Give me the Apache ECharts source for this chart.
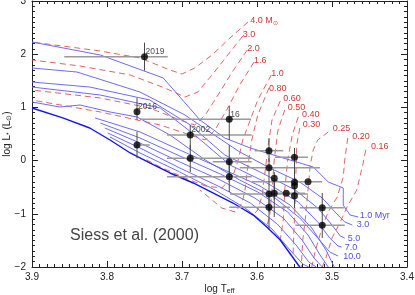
<!DOCTYPE html>
<html><head><meta charset="utf-8">
<script src="https://cdn.jsdelivr.net/npm/echarts@6/dist/echarts.min.js"></script>
<style>html,body{margin:0;padding:0;background:#fff}#c{width:415px;height:295px}</style>
</head><body><div id="c"></div>
<script>
// ---------- data ----------
const xTicks = [3.9, 3.8, 3.7, 3.6, 3.5, 3.4];
const yTicks = [3, 2, 1, 0, -1, -2];

// isochrones (log Teff, log L)
const iso1 = [[3.900,2.229],[3.809,1.985],[3.725,1.553],[3.676,0.763],[3.643,0.425],[3.609,0.237],[3.556,0.011],[3.525,-0.120],[3.505,-0.402],[3.485,-0.515],[3.485,-0.835],[3.476,-1.023],[3.465,-1.060]];
const iso2 = [[3.900,1.741],[3.840,1.665],[3.756,1.289],[3.696,0.857],[3.663,0.538],[3.623,0.162],[3.583,-0.139],[3.543,-0.402],[3.513,-0.703],[3.496,-0.966],[3.483,-1.154],[3.473,-1.211]];
const iso3 = [[3.900,1.477],[3.823,1.383],[3.743,1.139],[3.689,0.669],[3.643,0.105],[3.596,-0.214],[3.549,-0.553],[3.519,-0.891],[3.500,-1.211],[3.489,-1.417],[3.483,-1.455]];
const iso4 = [[3.900,1.383],[3.809,1.233],[3.729,0.989],[3.683,0.481],[3.636,-0.083],[3.589,-0.402],[3.545,-0.778],[3.519,-1.154],[3.503,-1.455],[3.492,-1.605],[3.487,-1.624]];
const iso5 = [[3.900,1.102],[3.863,1.008],[3.836,1.045],[3.796,0.914],[3.760,0.820],[3.716,0.481],[3.669,0.011],[3.623,-0.365],[3.576,-0.703],[3.543,-1.079],[3.519,-1.455],[3.503,-1.718],[3.492,-1.793]];
const isoB1 = [[3.816,0.802],[3.756,0.538],[3.703,0.199],[3.649,-0.139],[3.596,-0.477],[3.556,-0.835],[3.527,-1.267],[3.508,-1.680],[3.497,-2.0]];
const isoB2 = [[3.809,0.707],[3.756,0.425],[3.703,0.087],[3.649,-0.252],[3.599,-0.590],[3.559,-0.966],[3.532,-1.399],[3.516,-1.774],[3.505,-2.0]];
const isoB3 = [[3.803,0.613],[3.756,0.331],[3.703,-0.026],[3.649,-0.365],[3.603,-0.703],[3.565,-1.079],[3.540,-1.492],[3.524,-1.831],[3.513,-2.0]];
const isoB4 = [[3.799,0.519],[3.756,0.237],[3.703,-0.139],[3.652,-0.477],[3.609,-0.797],[3.573,-1.192],[3.548,-1.586],[3.531,-1.906],[3.521,-2.0]];
const isoB5 = [[3.796,0.444],[3.756,0.143],[3.703,-0.214],[3.656,-0.553],[3.616,-0.891],[3.580,-1.286],[3.556,-1.680],[3.539,-1.944],[3.531,-2.0]];
const zams = [[3.900,0.989],[3.859,0.802],[3.823,0.613],[3.796,0.387],[3.769,0.143],[3.743,-0.045],[3.716,-0.233],[3.685,-0.421],[3.632,-0.797],[3.605,-1.023],[3.587,-1.248],[3.569,-1.492],[3.543,-2.0]];

const isoLabels = ['1.0 Myr','3.0','5.0','7.0','10.0'];
const isoLabelT = [3.463, 3.467, 3.479, 3.483, 3.485];
const isoLabelL = [-1.041, -1.201, -1.461, -1.630, -1.806];

// evolutionary tracks
const track40 = [[3.612,2.605],[3.636,2.305],[3.660,1.985],[3.683,1.741],[3.700,1.628],[3.716,1.703],[3.756,1.929],[3.809,2.060],[3.900,2.229]];
const track30 = [[3.619,2.342],[3.639,1.985],[3.660,1.609],[3.679,1.289],[3.696,1.195],[3.723,1.365],[3.769,1.609],[3.836,1.778],[3.900,1.891]];
const track20 = [[3.613,2.079],[3.633,1.665],[3.652,1.233],[3.669,0.857],[3.683,0.669],[3.703,0.763],[3.743,0.989],[3.809,1.177],[3.900,1.327]];
const track16 = [[3.604,1.853],[3.623,1.421],[3.639,0.989],[3.656,0.575],[3.669,0.387],[3.689,0.481],[3.729,0.669],[3.809,0.914],[3.900,1.139]];
const track10 = [[3.581,1.609],[3.599,1.139],[3.609,0.763],[3.619,0.387],[3.625,0.011],[3.633,-0.327],[3.647,-0.515],[3.669,-0.477],[3.696,-0.327],[3.729,-0.120],[3.752,0.049]];
const track08 = [[3.584,1.365],[3.599,0.857],[3.607,0.387],[3.612,-0.083],[3.616,-0.553],[3.620,-0.797],[3.629,-0.966],[3.647,-0.891],[3.663,-0.703],[3.676,-0.553]];
const track06 = [[3.569,1.120],[3.580,0.763],[3.585,0.293],[3.589,-0.177],[3.593,-0.647],[3.599,-0.929],[3.605,-1.023]];
const track05 = [[3.563,0.952],[3.572,0.575],[3.577,0.011],[3.580,-0.553],[3.583,-1.023],[3.587,-1.248]];
const track04 = [[3.545,0.820],[3.553,0.481],[3.559,0.011],[3.563,-0.553],[3.565,-1.117],[3.569,-1.492]];
const track03 = [[3.543,0.613],[3.547,0.293],[3.548,-0.177],[3.549,-0.741],[3.551,-1.399],[3.552,-1.812]];
const track025 = [[3.505,0.538],[3.519,0.387],[3.525,0.199],[3.529,-0.083],[3.532,-0.553],[3.535,-1.023],[3.539,-1.492],[3.541,-2.0]];
const track020 = [[3.479,0.425],[3.483,0.011],[3.485,-0.308],[3.493,-0.684],[3.505,-0.966],[3.513,-1.248],[3.523,-1.737],[3.527,-2.0]];
const track016 = [[3.455,0.199],[3.459,-0.083],[3.467,-0.553],[3.480,-0.872],[3.489,-1.154],[3.500,-1.455],[3.509,-1.868],[3.513,-2.0]];

const trackLabels = ['4.0 M⊙','3.0','2.0','1.6','1.0','0.80','0.60','0.50','0.40','0.30','0.25','0.20','0.16'];
const trackLabelT = [3.609, 3.619, 3.613, 3.604, 3.581, 3.584, 3.565, 3.559, 3.540, 3.539, 3.499, 3.473, 3.448];
const trackLabelL = [2.630, 2.361, 2.111, 1.878, 1.628, 1.359, 1.158, 1.002, 0.870, 0.669, 0.594, 0.462, 0.261];

// observed stars
const starNames = ['2019','2016','','16','2002','','','','','','','','','','','','','','','','',''];
const starTeff  = [3.750,3.760,3.760,3.637,3.689,3.689,3.637,3.637,3.584,3.584,3.577,3.550,3.550,3.550,3.532,3.584,3.577,3.561,3.550,3.584,3.513,3.513];
const starLum   = [1.953,0.919,0.293,0.776,0.481,0.043,-0.021,-0.303,0.186,-0.133,-0.333,0.062,-0.408,-0.472,-0.397,-0.628,-0.615,-0.615,-0.660,-0.878,-0.885,-1.216];
const teffHot   = [3.857,null,3.760,3.756,3.720,3.720,3.659,3.720,3.603,3.623,null,3.576,null,null,3.607,3.636,null,3.589,null,3.637,3.543,3.549];
const teffCool  = [3.719,null,3.743,3.608,3.607,3.607,3.607,3.607,3.565,3.516,null,3.532,null,null,3.513,3.532,null,3.536,null,3.556,3.483,3.483];
const lumHigh   = [2.216,1.177,0.543,1.026,0.669,0.293,0.293,0.011,0.425,0.049,-0.214,0.237,-0.177,-0.365,null,-0.365,-0.365,null,-0.459,-0.647,-0.609,-1.023];
const lumLow    = [1.690,0.763,0.044,0.387,0.199,-0.214,-0.271,-0.590,-0.026,-0.365,-0.741,-0.177,-0.553,-0.891,null,-0.966,-1.060,null,-0.891,-1.305,-1.023,-1.455];

// ---------- chart ----------
const FONT = '"Liberation Sans", Arial, sans-serif';
const chart = echarts.init(document.getElementById('c'), null, {renderer: 'canvas'});

const blue = '#6c6cf6';
const red = '#e36464';
const isoList = [iso1, iso2, iso3, iso4, iso5, isoB1, isoB2, isoB3, isoB4, isoB5];
const trackList = [track40, track30, track20, track16, track10, track08, track06, track05, track04, track03, track025, track020, track016];

const series = [];
trackList.forEach(t => series.push({type:'line', data:t, symbol:'none', silent:true, z:2,
  lineStyle:{color:red, width:1, type:[6,4]}}));
isoList.forEach(t => series.push({type:'line', data:t, symbol:'none', silent:true, z:3,
  lineStyle:{color:blue, width:1}}));
series.push({type:'line', data:zams, symbol:'none', silent:true, z:3, lineStyle:{color:'#1414f0', width:1.4}});

series.push({type:'scatter', symbolSize:0, silent:true, z:5,
  data: trackLabels.map((s,i)=>[trackLabelT[i], trackLabelL[i]]),
  label:{show:true, position:'right', distance:0, fontSize:9, fontFamily:FONT, color:'#c00000',
    formatter: p => trackLabels[p.dataIndex].replace('⊙','{sub|⊙}'),
    rich:{sub:{fontSize:6, color:'#c00000', padding:[5,0,0,0], fontFamily:FONT}}}});
series.push({type:'scatter', symbolSize:0, silent:true, z:5,
  data: isoLabels.map((s,i)=>[isoLabelT[i], isoLabelL[i]]),
  label:{show:true, position:'right', distance:0, fontSize:9, fontFamily:FONT, color:'#2222dd',
    formatter: p => isoLabels[p.dataIndex]}});

// error bars
const hData = [], vData = [];
starTeff.forEach((t,i)=>{
  if (teffHot[i] !== null) hData.push([t, starLum[i], teffHot[i], teffCool[i]]);
  if (lumHigh[i] !== null) vData.push([t, starLum[i], lumHigh[i], lumLow[i]]);
});
series.push({type:'custom', silent:true, z:6, data:hData, encode:{x:[0,2,3], y:1},
  renderItem:(params, api)=>{
    const a = api.coord([api.value(2), api.value(1)]);
    const b = api.coord([api.value(3), api.value(1)]);
    return {type:'line', shape:{x1:a[0], y1:a[1], x2:b[0], y2:b[1]}, style:{stroke:'#9a9a9a', lineWidth:1.5}};
  }});
series.push({type:'custom', silent:true, z:7, data:vData, encode:{x:0, y:[1,2,3]},
  renderItem:(params, api)=>{
    const a = api.coord([api.value(0), api.value(2)]);
    const b = api.coord([api.value(0), api.value(3)]);
    return {type:'line', shape:{x1:a[0], y1:a[1], x2:b[0], y2:b[1]}, style:{stroke:'#4a4a4a', lineWidth:1}};
  }});
series.push({type:'scatter', symbol:'circle', symbolSize:7, z:8, silent:true,
  itemStyle:{color:'#000'},
  data: starTeff.map((t,i)=>[t, starLum[i]]),
  label:{show:true, position:'right', distance:0, offset:[-2.5,-5], fontSize:8.5, fontFamily:FONT, color:'#222',
    formatter: p => starNames[p.dataIndex]}});

const axisCommon = {
  axisLine:{show:true, onZero:false, lineStyle:{color:'#222', width:1}},
  axisTick:{show:true, inside:true, length:6, lineStyle:{color:'#222', width:1}},
  minorTick:{show:true, splitNumber:10, length:3, lineStyle:{color:'#222', width:1}},
  splitLine:{show:false}, minorSplitLine:{show:false}
};
const fmtX = v => { const k = xTicks.find(t => Math.abs(t - v) < 1e-6); return k === undefined ? '' : k.toFixed(1); };
const fmtY = v => { const k = yTicks.find(t => Math.abs(t - v) < 1e-6); return k === undefined ? '' : (k < 0 ? '\u2212' + Math.abs(k) : String(k)); };

chart.setOption({
  animation:false,
  backgroundColor:'#fff',
  grid:{left:32, right:8, top:1, bottom:28, containLabel:false, outerBoundsMode:'none'},
  xAxis:[
    Object.assign({type:'value', min:3.4, max:3.9, interval:0.1, inverse:true, position:'bottom',
      axisLabel:{show:true, margin:5, fontSize:10, fontFamily:FONT, color:'#222', formatter:fmtX},
      name:'log T{sub|eff}', nameLocation:'middle', nameGap:16, nameMoveOverlap:false,
      nameTextStyle:{fontSize:10, fontFamily:FONT, color:'#222', rich:{sub:{fontSize:7, fontFamily:FONT, color:'#222', padding:[5,0,0,0]}}}
    }, axisCommon),
    Object.assign({type:'value', min:3.4, max:3.9, interval:0.1, inverse:true, position:'top',
      axisLabel:{show:false}}, axisCommon)
  ],
  yAxis:[
    Object.assign({type:'value', min:-2, max:3, interval:1, position:'left',
      axisLabel:{show:true, margin:6, fontSize:10, fontFamily:FONT, color:'#222', formatter:fmtY},
      name:'log L{sub|*} (L{sub|⊙})', nameLocation:'middle', nameGap:19, nameRotate:90, nameMoveOverlap:false,
      nameTextStyle:{fontSize:10, fontFamily:FONT, color:'#222', rich:{sub:{fontSize:7, fontFamily:FONT, color:'#222', padding:[5,0,0,0]}}}
    }, axisCommon),
    Object.assign({type:'value', min:-2, max:3, interval:1, position:'right',
      axisLabel:{show:false}}, axisCommon)
  ],
  graphic:[{type:'text', left:70, top:228, silent:true,
    style:{text:'Siess et al. (2000)', font:'16px "Liberation Sans", Arial, sans-serif', fill:'#444'}}],
  series: series
});
</script></body></html>
